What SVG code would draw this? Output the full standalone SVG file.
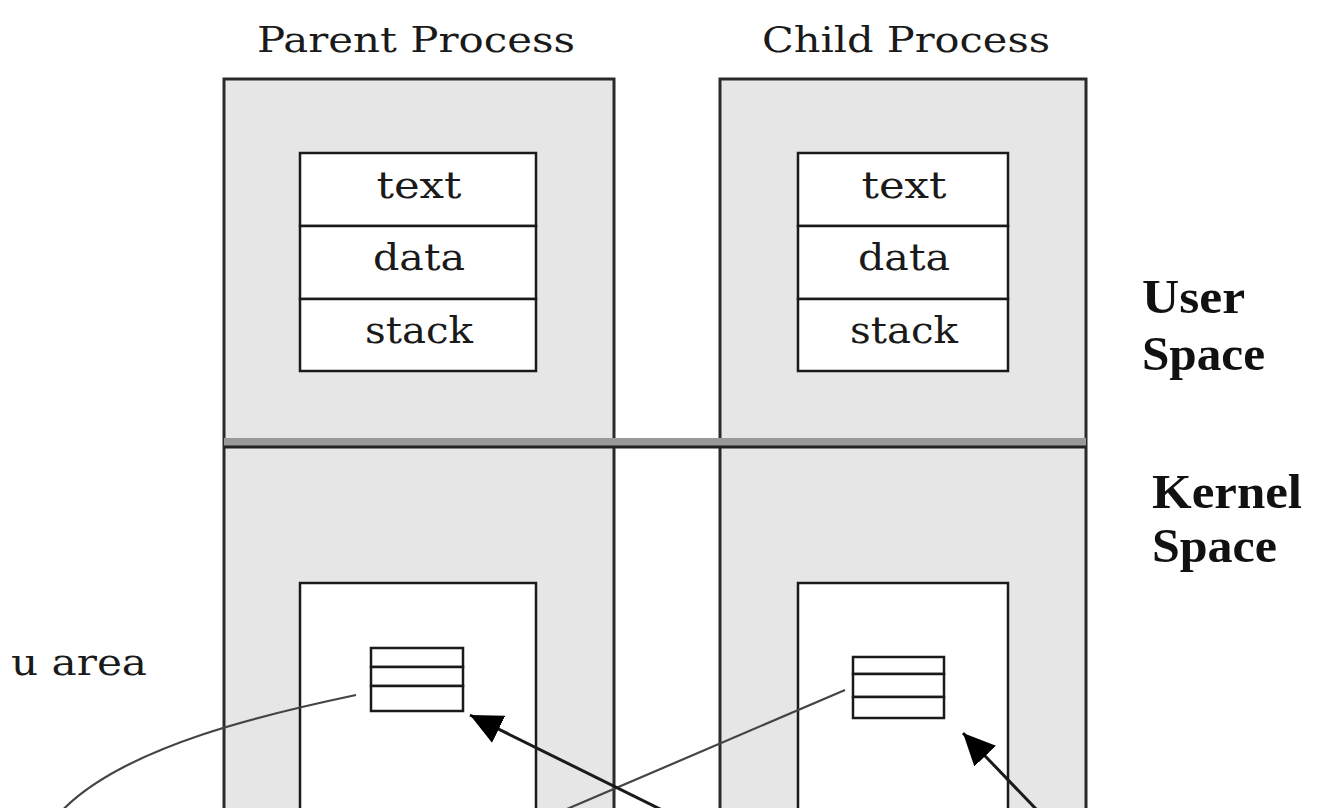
<svg xmlns="http://www.w3.org/2000/svg" width="1317" height="808" viewBox="0 0 1317 808">
  <style>
    .proc { fill: #e6e6e6; stroke: #2a2a2a; stroke-width: 3; }
    .cell { fill: #ffffff; stroke: #1a1a1a; stroke-width: 2.5; }
    .title { font-family: "DejaVu Serif", "Liberation Serif", serif; font-size: 36px; fill: #1a1a1a; text-anchor: middle; }
    .seg { font-family: "DejaVu Serif", "Liberation Serif", serif; font-size: 37px; fill: #1a1a1a; text-anchor: middle; }
    .side { font-family: "Liberation Serif", "DejaVu Serif", serif; font-size: 48px; font-weight: bold; fill: #111; }
    .lbl { font-family: "DejaVu Serif", "Liberation Serif", serif; font-size: 35px; fill: #1a1a1a; }
    .thin { fill: none; stroke: #444; stroke-width: 2.2; }
    .arrow { fill: none; stroke: #1a1a1a; stroke-width: 3; marker-end: url(#head); }
  </style>
  <defs>
    <marker id="head" markerUnits="userSpaceOnUse" markerWidth="34" markerHeight="32" viewBox="0 -16 34 32" refX="32" refY="0" orient="auto">
      <path d="M0,-15 L32,0 L0,15 z" fill="#000"/>
    </marker>
  </defs>
  <rect width="1317" height="808" fill="#ffffff"/>

  <g id="parent-process">
    <text class="title" x="416" y="52" textLength="318" lengthAdjust="spacingAndGlyphs">Parent Process</text>
    <rect class="proc" x="224" y="79" width="390" height="760"/>
    <g id="parent-segments">
      <rect class="cell" x="300" y="153" width="236" height="73"/>
      <rect class="cell" x="300" y="226" width="236" height="73"/>
      <rect class="cell" x="300" y="299" width="236" height="72"/>
      <text class="seg" x="419" y="198" textLength="85" lengthAdjust="spacingAndGlyphs">text</text>
      <text class="seg" x="419" y="270" textLength="92" lengthAdjust="spacingAndGlyphs">data</text>
      <text class="seg" x="419" y="343" textLength="108" lengthAdjust="spacingAndGlyphs">stack</text>
    </g>
    <rect class="cell" x="300" y="583" width="236" height="260"/>
    <g id="parent-uarea">
      <rect class="cell" x="371" y="648" width="92" height="19"/>
      <rect class="cell" x="371" y="667" width="92" height="19"/>
      <rect class="cell" x="371" y="686" width="92" height="25"/>
    </g>
  </g>

  <g id="child-process">
    <text class="title" x="906" y="52" textLength="288" lengthAdjust="spacingAndGlyphs">Child Process</text>
    <rect class="proc" x="720" y="79" width="366" height="760"/>
    <g id="child-segments">
      <rect class="cell" x="798" y="153" width="210" height="73"/>
      <rect class="cell" x="798" y="226" width="210" height="73"/>
      <rect class="cell" x="798" y="299" width="210" height="72"/>
      <text class="seg" x="904" y="198" textLength="85" lengthAdjust="spacingAndGlyphs">text</text>
      <text class="seg" x="904" y="270" textLength="92" lengthAdjust="spacingAndGlyphs">data</text>
      <text class="seg" x="904" y="343" textLength="108" lengthAdjust="spacingAndGlyphs">stack</text>
    </g>
    <rect class="cell" x="798" y="583" width="210" height="260"/>
    <g id="child-uarea">
      <rect class="cell" x="853" y="657" width="91" height="17"/>
      <rect class="cell" x="853" y="674" width="91" height="23"/>
      <rect class="cell" x="853" y="697" width="91" height="21"/>
    </g>
  </g>

  <g id="separator">
    <rect x="224" y="438" width="862" height="8" fill="#999999"/>
    <line x1="224" y1="447" x2="1086" y2="447" stroke="#222" stroke-width="3"/>
  </g>

  <g id="labels">
    <text class="side" x="1142" y="313" textLength="103" lengthAdjust="spacingAndGlyphs">User</text>
    <text class="side" x="1142" y="370" textLength="123" lengthAdjust="spacingAndGlyphs">Space</text>
    <text class="side" x="1152" y="508" textLength="150" lengthAdjust="spacingAndGlyphs">Kernel</text>
    <text class="side" x="1152" y="562" textLength="125" lengthAdjust="spacingAndGlyphs">Space</text>
    <text class="lbl" x="11" y="675" textLength="136" lengthAdjust="spacingAndGlyphs">u area</text>
  </g>

  <g id="connectors">
    <path class="thin" d="M356,695 C280,711 120,745 58,815"/>
    <path class="thin" d="M845,690 L560,812"/>
    <path class="arrow" d="M662,810 L470,715"/>
    <path class="arrow" d="M1037,810 L963,733"/>
  </g>
</svg>
